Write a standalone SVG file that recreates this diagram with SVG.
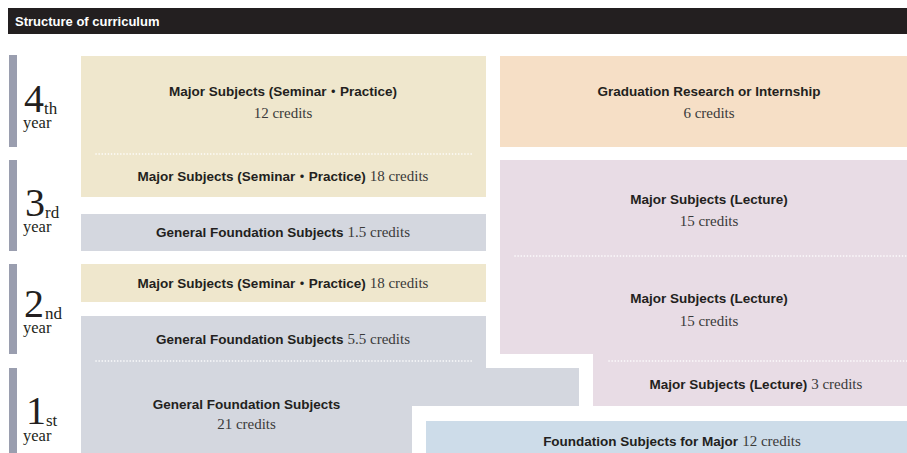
<svg xmlns="http://www.w3.org/2000/svg" width="907" height="453" viewBox="0 0 907 453">
<style>
.b{font-family:"Liberation Sans","Noto Sans CJK JP",sans-serif;font-weight:bold;font-size:13.5px;fill:#231f20}
.c{font-family:"Liberation Serif",serif;font-size:15px;fill:#3a3a3a}
.big{font-family:"Liberation Serif",serif;font-size:40px;fill:#231f20}
.sup{font-family:"Liberation Serif",serif;font-size:17px;fill:#231f20}
.yr{font-family:"Liberation Serif",serif;font-size:16.5px;fill:#231f20}
.bar{fill:#9a9eaf}
.dot{stroke:#ffffff;stroke-width:1.6;stroke-dasharray:0.1 3;stroke-linecap:round;fill:none}
.beige{fill:#efe7cd}
.grey{fill:#d4d7df}
.orange{fill:#f6dfc6}
.pink{fill:#e8dce5}
.blue{fill:#cddce9}
</style>
<g id="header">
<rect x="8" y="8" width="899" height="26" fill="#231f20"/>
<text x="15" y="26" font-family="Liberation Sans, sans-serif" font-weight="bold" font-size="13" fill="#ffffff">Structure of curriculum</text>
</g>
<g id="year4">
<rect class="bar" x="9" y="55" width="8" height="92"/>
<text class="big" x="24" y="112">4</text><text class="sup" x="44" y="114">th</text>
<text class="yr" x="23" y="128">year</text>
</g>
<g id="year3">
<rect class="bar" x="9" y="160" width="8" height="91"/>
<text class="big" x="25" y="216">3</text><text class="sup" x="45" y="218">rd</text>
<text class="yr" x="23" y="232">year</text>
</g>
<g id="year2">
<rect class="bar" x="9" y="264" width="8" height="90"/>
<text class="big" x="24" y="317">2</text><text class="sup" x="45" y="319">nd</text>
<text class="yr" x="23" y="333">year</text>
</g>
<g id="year1">
<rect class="bar" x="9" y="368" width="8" height="85"/>
<text class="big" x="26" y="424">1</text><text class="sup" x="46" y="426">st</text>
<text class="yr" x="23" y="441">year</text>
</g>
<g id="seminar-4-3">
<rect class="beige" x="81" y="56" width="405" height="141"/>
<text x="283" y="96" text-anchor="middle" class="b">Major Subjects (Seminar・Practice)</text>
<text x="283" y="118" text-anchor="middle" class="c">12 credits</text>
<line class="dot" x1="96" y1="154" x2="472" y2="154"/>
<text x="283" y="181" text-anchor="middle"><tspan class="b">Major Subjects (Seminar・Practice)</tspan><tspan class="c" dx="4">18 credits</tspan></text>
</g>
<g id="general-3">
<rect class="grey" x="81" y="214" width="405" height="37"/>
<text x="283" y="237" text-anchor="middle"><tspan class="b">General Foundation Subjects</tspan><tspan class="c" dx="4">1.5 credits</tspan></text>
</g>
<g id="seminar-2">
<rect class="beige" x="81" y="264" width="405" height="38"/>
<text x="283" y="288" text-anchor="middle"><tspan class="b">Major Subjects (Seminar・Practice)</tspan><tspan class="c" dx="4">18 credits</tspan></text>
</g>
<g id="general-2-1">
<path class="grey" d="M81,316 H486 V368 H579 V406 H412 V453 H81 Z"/>
<text x="283" y="344" text-anchor="middle"><tspan class="b">General Foundation Subjects</tspan><tspan class="c" dx="4">5.5 credits</tspan></text>
<line class="dot" x1="96" y1="361" x2="472" y2="361"/>
<text x="246.5" y="409" text-anchor="middle" class="b">General Foundation Subjects</text>
<text x="246.5" y="429" text-anchor="middle" class="c">21 credits</text>
</g>
<g id="graduation">
<rect class="orange" x="500" y="56" width="418" height="91"/>
<text x="709" y="96" text-anchor="middle" class="b">Graduation Research or Internship</text>
<text x="709" y="118" text-anchor="middle" class="c">6 credits</text>
</g>
<g id="lecture">
<path class="pink" d="M500,160 H918 V406 H593 V354 H500 Z"/>
<text x="709" y="204" text-anchor="middle" class="b">Major Subjects (Lecture)</text>
<text x="709" y="226" text-anchor="middle" class="c">15 credits</text>
<line class="dot" x1="515" y1="256" x2="907" y2="256"/>
<text x="709" y="303" text-anchor="middle" class="b">Major Subjects (Lecture)</text>
<text x="709" y="326" text-anchor="middle" class="c">15 credits</text>
<line class="dot" x1="609" y1="361" x2="907" y2="361"/>
<text x="756" y="389" text-anchor="middle"><tspan class="b">Major Subjects (Lecture)</tspan><tspan class="c" dx="4">3 credits</tspan></text>
</g>
<g id="foundation-major">
<rect class="blue" x="426" y="421" width="492" height="32"/>
<text x="672" y="446" text-anchor="middle"><tspan class="b">Foundation Subjects for Major</tspan><tspan class="c" dx="4">12 credits</tspan></text>
</g>
<g id="connectors"/>
</svg>
